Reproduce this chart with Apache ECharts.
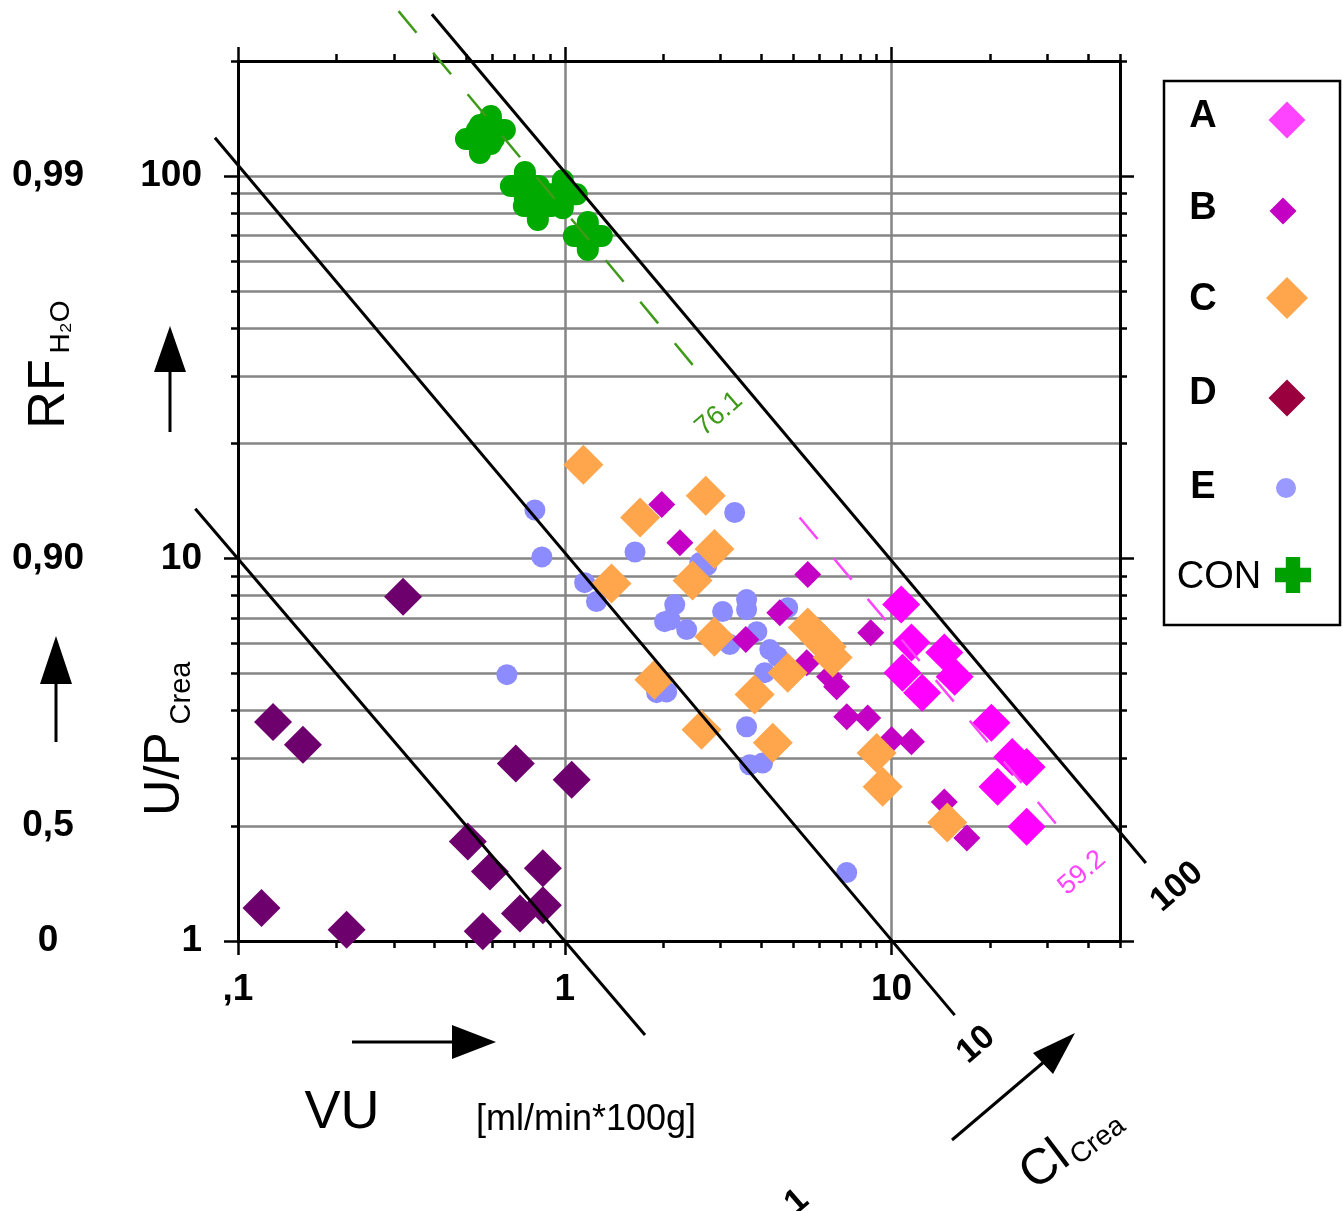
<!DOCTYPE html>
<html>
<head>
<meta charset="utf-8">
<script src="https://cdn.jsdelivr.net/npm/echarts@6/dist/echarts.min.js"></script>
<style>
html,body{margin:0;padding:0;background:#fff;}
#chart{width:1343px;height:1211px;}
</style>
</head>
<body>
<div id="chart"></div>
<script>
// ---------------- data (VU [ml/min*100g], U/P Crea) ----------------
const groupA = [[10.7,7.58],[11.5,6.03],[14.5,5.68],[10.8,5.03],[12.4,4.46],[15.6,4.91],[20.2,3.72],[23.4,3.03],[25.9,2.85],[21.1,2.53],[25.9,1.99]];
const groupB = [[1.98,13.85],[2.25,11.0],[3.58,6.14],[4.55,7.22],[5.54,9.08],[8.63,6.40],[5.50,5.34],[6.46,4.91],[6.79,4.62],[7.29,3.86],[8.45,3.83],[10.0,3.36],[11.5,3.32],[14.5,2.31],[17.0,1.86]];
const groupC = [[1.14,17.6],[1.70,12.8],[2.70,14.6],[2.87,10.6],[2.46,8.76],[1.39,8.60],[2.87,6.25],[5.54,6.60],[6.02,6.14],[6.33,5.88],[6.60,5.51],[4.81,5.03],[3.81,4.41],[1.88,4.82],[2.62,3.57],[4.33,3.30],[9.0,3.10],[9.39,2.53],[14.8,2.04]];
const groupD = [[0.320,7.95],[0.128,3.74],[0.158,3.26],[0.708,2.91],[1.05,2.64],[0.505,1.82],[0.59,1.52],[0.857,1.55],[0.857,1.24],[0.729,1.18],[0.118,1.22],[0.215,1.07],[0.561,1.06]];
const groupE = [[0.81,13.4],[3.31,13.2],[0.851,10.1],[1.64,10.4],[2.59,9.76],[2.72,9.59],[1.15,8.65],[1.25,7.72],[2.17,7.58],[2.10,6.92],[2.02,6.84],[2.36,6.52],[3.04,7.27],[3.60,7.81],[3.60,7.35],[4.81,7.44],[3.20,5.96],[3.87,6.44],[4.24,5.78],[4.48,5.54],[0.665,4.97],[1.91,4.46],[2.05,4.48],[4.09,5.03],[3.60,3.63],[3.68,2.89],[4.03,2.92],[7.29,1.51]];
const groupCON = [[0.55,125],[0.594,132],[0.755,94.2],[0.827,83.5],[0.986,89.7],[1.176,69.7]];

// iso-clearance lines (CI = VU * U/P) and group fits, end points
const isoCI1 = [[0.074,13.5],[1.76,0.568]];
const isoCI10 = [[0.085,126],[15.6,0.64]];
const isoCI100 = [[0.392,265],[60,1.6]];
const fitCON = [[0.31,270],[2.63,30]];   // 76.1
const fitA = [[5.23,12.8],[35,1.84]];    // 59.2

// ticks / labels
const xMajorTicks = [0.1, 1, 10];
const xMinorTicks = [0.2,0.3,0.4,0.5,0.6,0.7,0.8,0.9,2,3,4,5,6,7,8,9,20,30,40,50];
const xGridVals = [1, 10];
const yMajorTicks = [1, 10, 100];
const yMinorTicks = [2,3,4,5,6,7,8,9,20,30,40,50,60,70,80,90,200];
const yGridVals = [2,3,4,5,6,7,8,9,10,20,30,40,50,60,70,80,90,100];
const rfPositions = [1, 2, 10, 100];
const rfLabels = ['0', '0,5', '0,90', '0,99'];
const legendNames = ['A','B','C','D','E','CON'];

const FONT = '"Liberation Sans", Arial, Helvetica, sans-serif';
const GRID_COLOR = '#858585';
const tickLine = {color:'#000', width:2.5};

// main plot frame (px) and a larger invisible frame with identical scales for the iso-lines
const PLOT = {left:238, top:61, width:882, height:880};
const X_MIN = 0.1, X_MAX = 50, Y_MIN = 1, Y_MAX = 200;
const pxPerDecX = PLOT.width / Math.log10(X_MAX / X_MIN);
const pxPerDecY = PLOT.height / Math.log10(Y_MAX / Y_MIN);
const EXT = {xmin:0.05, xmax:100, ymin:0.5, ymax:280};
const extGrid = {
  left: PLOT.left - Math.log10(X_MIN / EXT.xmin) * pxPerDecX,
  top: PLOT.top - Math.log10(EXT.ymax / Y_MAX) * pxPerDecY,
  width: Math.log10(EXT.xmax / EXT.xmin) * pxPerDecX,
  height: Math.log10(EXT.ymax / EXT.ymin) * pxPerDecY,
  containLabel:false,
  show:false
};

function baseX(pos){
  return {type:'log', logBase:10, min:X_MIN, max:X_MAX, gridIndex:0, position:pos,
    axisLine:{show:false, onZero:false}, axisTick:{show:false}, axisLabel:{show:false},
    splitLine:{show:false}, minorTick:{show:false}, minorSplitLine:{show:false}};
}
function baseY(pos){
  return {type:'log', logBase:10, min:Y_MIN, max:Y_MAX, gridIndex:0, position:pos,
    axisLine:{show:false, onZero:false}, axisTick:{show:false}, axisLabel:{show:false},
    splitLine:{show:false}, minorTick:{show:false}, minorSplitLine:{show:false}};
}
function withTicks(ax, vals, len){
  ax.axisTick = {show:true, inside:false, length:len, customValues:vals, lineStyle:tickLine};
  return ax;
}
function fmtX(v){ return Math.abs(v-0.1) < 1e-6 ? ',1' : String(Math.round(v)); }
function fmtY(v){ return String(Math.round(v)); }
function fmtRF(v){
  let best = 0;
  for (let i=0;i<rfPositions.length;i++){ if (Math.abs(Math.log10(v)-Math.log10(rfPositions[i])) < Math.abs(Math.log10(v)-Math.log10(rfPositions[best]))) best = i; }
  return rfLabels[best];
}
const labelFont = {fontFamily:FONT, fontSize:37, fontWeight:'bold', color:'#000'};

// x axes
const xMain = withTicks(baseX('bottom'), xMajorTicks, 14);
xMain.axisLine = {show:true, onZero:false, lineStyle:{color:'#000', width:3}};
xMain.axisLabel = Object.assign({show:true, customValues:xMajorTicks, formatter:fmtX, margin:30}, labelFont);
const xMinorB = withTicks(baseX('bottom'), xMinorTicks, 7);
const xTop = withTicks(baseX('top'), xMajorTicks, 14);
xTop.axisLine = {show:true, onZero:false, lineStyle:{color:'#000', width:3}};
const xMinorT = withTicks(baseX('top'), xMinorTicks, 7);
const xGrid = baseX('bottom');
xGrid.axisTick = {show:false, customValues:xGridVals};
xGrid.splitLine = {show:true, lineStyle:{color:GRID_COLOR, width:2.5}};
const xExt = {type:'log', logBase:10, gridIndex:1, min:EXT.xmin, max:EXT.xmax, show:false};

// y axes
const yMain = withTicks(baseY('left'), yMajorTicks, 14);
yMain.axisLine = {show:true, onZero:false, lineStyle:{color:'#000', width:3}};
yMain.axisLabel = Object.assign({show:true, customValues:yMajorTicks, formatter:fmtY, margin:36}, labelFont);
const yMinorL = withTicks(baseY('left'), yMinorTicks, 7);
const yRight = withTicks(baseY('right'), yMajorTicks, 14);
yRight.axisLine = {show:true, onZero:false, lineStyle:{color:'#000', width:3}};
const yMinorR = withTicks(baseY('right'), yMinorTicks, 7);
const yGrid = baseY('left');
yGrid.axisTick = {show:false, customValues:yGridVals};
yGrid.splitLine = {show:true, lineStyle:{color:GRID_COLOR, width:2.5}};
const yRF = baseY('left');
yRF.axisLabel = Object.assign({show:true, customValues:rfPositions, formatter:fmtRF, margin:190, align:'center'}, labelFont);
const yExt = {type:'log', logBase:10, gridIndex:1, min:EXT.ymin, max:EXT.ymax, show:false};

function isoLine(data, color, width, dash, z){
  return {type:'line', data:data, xAxisIndex:5, yAxisIndex:6, symbol:'none', clip:false, silent:true, z:z,
    lineStyle:{color:color, width:width, type:dash || 'solid'}};
}
function scatter(name, data, symbol, size, color, z){
  return {type:'scatter', name:name, data:data, xAxisIndex:0, yAxisIndex:0, symbol:symbol, symbolSize:size,
    itemStyle:{color:color, opacity:1}, z:z, silent:true};
}
const PLUS = 'path://M28,22A22,22 0 0 1 72,22V28H78A22,22 0 0 1 78,72H72V78A22,22 0 0 1 28,78V72H22A22,22 0 0 1 22,28H28Z';

// ---------------- decorations (titles, arrows, legend) ----------------
function txt(t, x, y, size, opts){
  opts = opts || {};
  return {type:'text', x:x, y:y, rotation:(opts.rot||0)*Math.PI/180, z:100,
    style:{text:t, fill:opts.color||'#000', fontFamily:FONT, fontSize:size, fontWeight:opts.weight||'normal',
      align:'center', verticalAlign:'middle', textAlign:'center', textVerticalAlign:'middle'}};
}
function arrow(x1,y1,x2,y2,head){
  return [
    {type:'line', z:100, shape:{x1:x1,y1:y1,x2:x2,y2:y2}, style:{stroke:'#000', lineWidth:3}},
    {type:'polygon', z:100, shape:{points:head}, style:{fill:'#000'}}
  ];
}
function diamond(cx, cy, s, color){
  const h = s/2;
  return {type:'polygon', z:100, shape:{points:[[cx,cy-h],[cx+h,cy],[cx,cy+h],[cx-h,cy]]}, style:{fill:color}};
}
function plusShape(cx, cy, s, color){
  const a = s/2, b = s*0.2;
  return {type:'polygon', z:100, shape:{points:[[cx-b,cy-a],[cx+b,cy-a],[cx+b,cy-b],[cx+a,cy-b],[cx+a,cy+b],[cx+b,cy+b],[cx+b,cy+a],[cx-b,cy+a],[cx-b,cy+b],[cx-a,cy+b],[cx-a,cy-b],[cx-b,cy-b]]}, style:{fill:color}};
}

const graphics = [].concat(
  // axis titles
  [txt('U/P', 165, 774, 50, {rot:90}), txt('Crea', 182, 693, 29, {rot:90}),
   txt('RF', 50, 394, 52, {rot:90}), txt('H\u2082O', 61, 327, 28, {rot:90}),
   txt('VU', 342, 1113, 54), txt('[ml/min*100g]', 586, 1120, 36),
   txt('Cl', 1045, 1166, 50, {rot:37}), txt('Crea', 1098, 1141, 28, {rot:37}),
   // iso-line labels
   txt('100', 1177, 887, 34, {rot:41, weight:'bold'}),
   txt('10', 976, 1045, 34, {rot:41, weight:'bold'}),
   txt('1', 797, 1202, 34, {rot:41, weight:'bold'}),
   txt('76.1', 719, 414, 27, {rot:41, color:'#3f9a1a'}),
   txt('59.2', 1082, 873, 27, {rot:41, color:'#ff44ff'})],
  arrow(170, 432, 170, 368, [[154,372],[186,372],[170,326]]),
  arrow(56, 742, 56, 680, [[40,684],[72,684],[56,636]]),
  arrow(352, 1042, 456, 1042, [[452,1025],[452,1059],[496,1042]]),
  arrow(952, 1140, 1045, 1061, [[1033,1053],[1053,1074],[1075,1033]]),
  // legend box
  [{type:'rect', z:99, shape:{x:1164, y:81, width:176, height:544}, style:{fill:'#fff', stroke:'#000', lineWidth:2.5}},
   txt(legendNames[0], 1203, 117, 38, {weight:'bold'}),
   txt(legendNames[1], 1203, 209, 38, {weight:'bold'}),
   txt(legendNames[2], 1203, 300, 38, {weight:'bold'}),
   txt(legendNames[3], 1203, 394, 38, {weight:'bold'}),
   txt(legendNames[4], 1203, 488, 38, {weight:'bold'}),
   txt(legendNames[5], 1219, 578, 38),
   diamond(1287, 120, 37, '#ff44ff'),
   diamond(1283, 211, 27, '#c400c4'),
   diamond(1287, 298, 42, '#ffa64d'),
   diamond(1287, 398, 37, '#99003d'),
   {type:'circle', z:100, shape:{cx:1286, cy:488, r:10}, style:{fill:'#9999ff'}},
   plusShape(1293, 575, 36, '#00a000')]
);

const option = {
  animation:false,
  backgroundColor:'#fff',
  grid:[
    {left:PLOT.left, top:PLOT.top, width:PLOT.width, height:PLOT.height, containLabel:false},
    extGrid
  ],
  xAxis:[xMain, xMinorB, xTop, xMinorT, xGrid, xExt],
  yAxis:[yMain, yMinorL, yRight, yMinorR, yGrid, yRF, yExt],
  series:[
    scatter('E', groupE, 'circle', 21, '#8c8cff', 4),
    scatter('B', groupB, 'diamond', 27, '#c400c4', 5),
    scatter('C', groupC, 'diamond', 40, '#ffa64d', 6),
    scatter('D', groupD, 'diamond', 38, '#6e006e', 7),
    scatter('A', groupA, 'diamond', 38, '#ff00ff', 8),
    scatter('CON', groupCON, PLUS, 50, '#00aa00', 9),
    isoLine(isoCI1, '#000', 3, null, 10),
    isoLine(isoCI10, '#000', 3, null, 10),
    isoLine(isoCI100, '#000', 3, null, 10),
    isoLine(fitCON, '#3f9a1a', 2.5, [28,26], 11),
    isoLine(fitA, '#ff44ff', 2.5, [28,25], 11)
  ],
  graphic:{elements:graphics}
};
const chart = echarts.init(document.getElementById('chart'), null, {renderer:'canvas'});
chart.setOption(option);
</script>
</body>
</html>
